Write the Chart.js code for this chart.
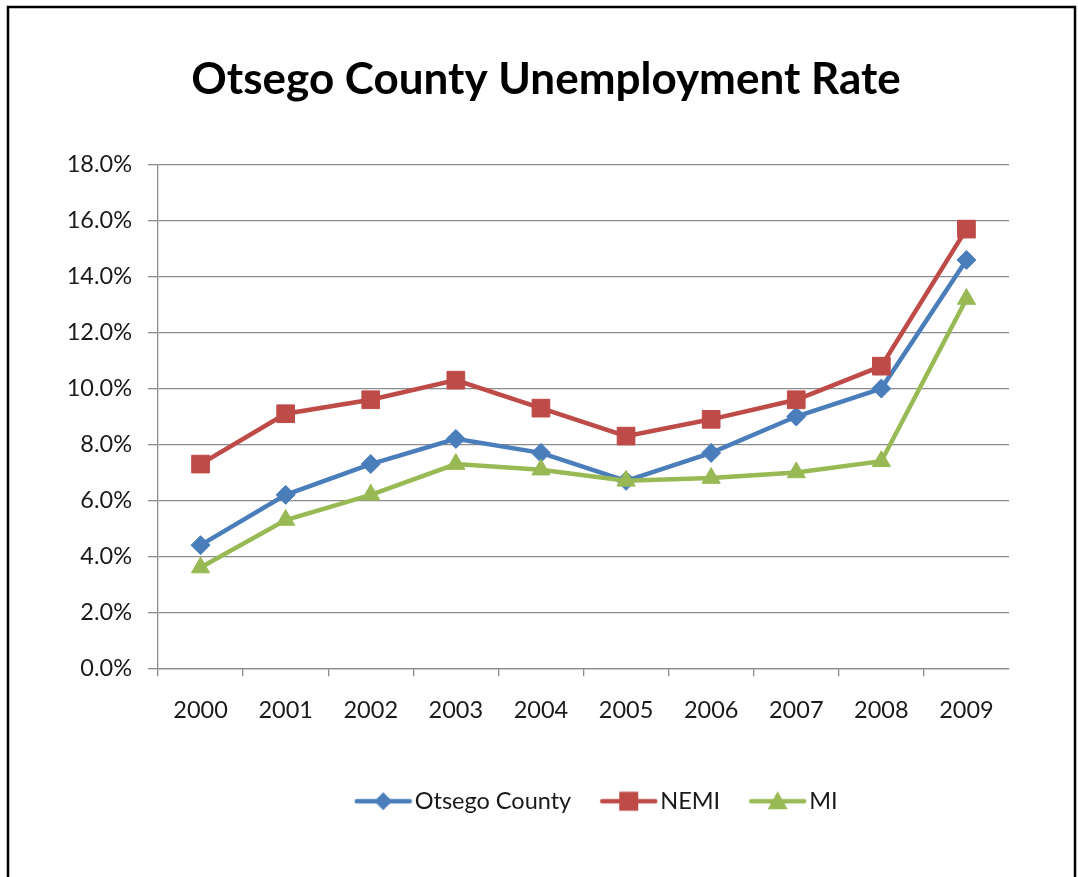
<!DOCTYPE html>
<html>
<head>
<meta charset="utf-8">
<script src="https://cdn.jsdelivr.net/npm/chart.js@4/dist/chart.umd.min.js"></script>
<style>
  html, body { margin: 0; padding: 0; background: #fff; }
  canvas { display: block; }
</style>
</head>
<body>
<canvas id="chart" width="1078" height="877"></canvas>
<script>
// Annual unemployment rates (%)
const years = ['2000', '2001', '2002', '2003', '2004', '2005', '2006', '2007', '2008', '2009'];
const otsegoCounty = [4.4, 6.2, 7.3, 8.2, 7.7, 6.7, 7.7, 9.0, 10.0, 14.6];
const nemi = [7.3, 9.1, 9.6, 10.3, 9.3, 8.3, 8.9, 9.6, 10.8, 15.7];
const michigan = [3.6, 5.3, 6.2, 7.3, 7.1, 6.7, 6.8, 7.0, 7.4, 13.2];
const yTicks = [0, 2, 4, 6, 8, 10, 12, 14, 16, 18];

const BLUE = '#4a7ebb';
const RED = '#be4b48';
const GREEN = '#98b954';
const GRID = '#8c8c8c';
const TEXT = '#1a1a1a';
const FONT_SIZE = 23.5;

Chart.defaults.font.family = 'Lato, "Open Sans", sans-serif';

// Legend swatch: a short line with the series marker in the middle
function swatch(color, style) {
  const c = document.createElement('canvas');
  c.width = 59; c.height = 24;
  const g = c.getContext('2d');
  g.strokeStyle = color; g.fillStyle = color;
  g.lineWidth = 4.5; g.lineCap = 'round';
  g.beginPath(); g.moveTo(3, 12); g.lineTo(56, 12); g.stroke();
  g.beginPath();
  const cx = 29.5;
  if (style === 'rectRot') {
    g.moveTo(cx, 3); g.lineTo(cx + 9, 12); g.lineTo(cx, 21); g.lineTo(cx - 9, 12);
  } else if (style === 'rect') {
    g.rect(cx - 9.5, 2.5, 19, 19);
  } else {
    g.moveTo(cx, 2); g.lineTo(cx + 10, 20); g.lineTo(cx - 10, 20);
  }
  g.closePath(); g.fill();
  return c;
}

// White background and black outer frame
const framePlugin = {
  id: 'frame',
  beforeDraw(chart) {
    const { ctx, width, height } = chart;
    ctx.save();
    ctx.fillStyle = '#fff';
    ctx.fillRect(0, 0, width, height);
    ctx.strokeStyle = '#000';
    ctx.lineWidth = 2.5;
    ctx.strokeRect(8, 7, 1067, height + 20);
    ctx.restore();
  }
};

// Nudge the legend row slightly to the right of the plot centre
const legendShift = {
  id: 'legendShift',
  afterLayout(chart) {
    if (chart.legend) { chart.legend.left += 17; chart.legend.right += 17; }
  }
};

function series(label, data, color, style, radius, order) {
  return {
    label, data, order,
    borderColor: color,
    backgroundColor: color,
    borderWidth: 4.5,
    tension: 0,
    pointStyle: style,
    pointRadius: radius,
    pointHoverRadius: radius,
    pointBorderWidth: 1,
    pointBackgroundColor: color,
    pointBorderColor: color,
    legendSwatch: swatch(color, style)
  };
}

new Chart(document.getElementById('chart'), {
  type: 'line',
  data: {
    labels: years,
    datasets: [
      series('Otsego County', otsegoCounty, BLUE, 'rectRot', 9.5, 3),
      series('NEMI', nemi, RED, 'rect', 12.5, 2),
      series('MI', michigan, GREEN, 'triangle', 10.5, 1)
    ]
  },
  options: {
    responsive: false,
    animation: false,
    layout: { padding: { left: 24, right: 10, top: 0, bottom: 54 } },
    scales: {
      y: {
        min: 0, max: 18,
        afterBuildTicks(scale) { scale.ticks = yTicks.map(v => ({ value: v })); },
        afterFit(scale) { scale.width = 134; },
        ticks: {
          color: TEXT,
          font: { size: FONT_SIZE },
          padding: 16,
          callback: v => Number(v).toFixed(1) + '%'
        },
        grid: { color: GRID, lineWidth: 1.3, tickLength: 10 },
        border: { color: GRID, width: 1.3 }
      },
      // empty margin on the right of the plot
      spacer: {
        type: 'linear',
        position: 'right',
        min: 0, max: 1,
        afterFit(scale) { scale.width = 59; },
        ticks: { display: false },
        grid: { display: false },
        border: { display: false }
      },
      x: {
        offset: true,
        afterFit(scale) { scale.height = 83.5; },
        ticks: { color: TEXT, font: { size: FONT_SIZE }, padding: 20, maxRotation: 0 },
        grid: {
          offset: true,
          drawOnChartArea: false,
          tickLength: 8,
          lineWidth: 1.3,
          // tick marks between categories only; none after the last year
          tickColor: ctx => (ctx.tick ? GRID : 'rgba(0,0,0,0)')
        },
        border: { color: GRID, width: 1.3 }
      }
    },
    plugins: {
      title: {
        display: true,
        text: 'Otsego County Unemployment Rate',
        color: '#000',
        font: { size: 44, weight: 'bold' },
        padding: { top: 53, bottom: 59 }
      },
      legend: {
        position: 'bottom',
        fullSize: false,
        labels: {
          color: TEXT,
          font: { size: FONT_SIZE },
          usePointStyle: true,
          pointStyleWidth: 39.5,
          boxHeight: 20,
          padding: 37.75,
          sort: (a, b) => a.datasetIndex - b.datasetIndex,
          generateLabels(chart) {
            return chart.data.datasets.map((ds, i) => ({
              text: ds.label,
              datasetIndex: i,
              pointStyle: ds.legendSwatch,
              fillStyle: ds.borderColor,
              strokeStyle: ds.borderColor,
              fontColor: TEXT,
              lineWidth: 0,
              hidden: false
            }));
          }
        }
      },
      tooltip: { enabled: false }
    }
  },
  plugins: [framePlugin, legendShift]
});
</script>
</body>
</html>
